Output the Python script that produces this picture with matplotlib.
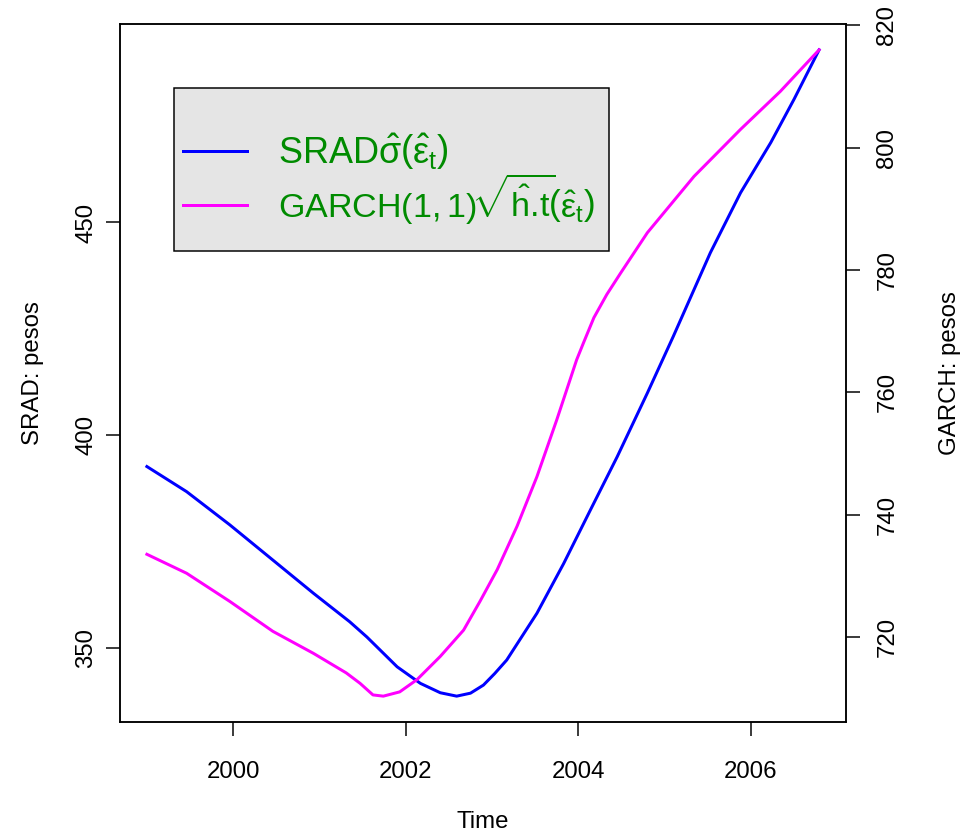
import matplotlib
matplotlib.use("Agg")
import matplotlib.pyplot as plt
from matplotlib.lines import Line2D
from matplotlib.patches import Rectangle

# values
srad_time = [1999.00, 1999.46, 1999.96, 2000.46, 2000.93, 2001.35, 2001.55, 2001.90,
             2002.17, 2002.40, 2002.59, 2002.75, 2002.90, 2003.03, 2003.17, 2003.52,
             2003.83, 2004.14, 2004.45, 2004.80, 2005.10, 2005.53, 2005.88, 2006.23,
             2006.50, 2006.79]
srad_pesos = [392.6, 386.7, 378.9, 370.6, 362.8, 356.1, 352.5, 345.5,
              341.6, 339.4, 338.6, 339.3, 341.2, 343.9, 347.1, 358.1,
              369.8, 382.4, 394.9, 409.9, 423.2, 442.9, 457.0, 468.8,
              479.0, 490.6]

garch_time = [1999.00, 1999.46, 1999.96, 2000.46, 2000.93, 2001.31, 2001.47, 2001.62,
              2001.74, 2001.93, 2002.13, 2002.40, 2002.67, 2002.86, 2003.06, 2003.29,
              2003.52, 2003.75, 2003.98, 2004.06, 2004.18, 2004.33, 2004.49, 2004.80,
              2005.34, 2005.88, 2006.34, 2006.79]
garch_pesos = [733.5, 730.4, 725.8, 720.9, 717.3, 714.1, 712.4, 710.5,
               710.3, 711.0, 713.0, 716.8, 721.1, 725.8, 731.0, 738.1,
               746.2, 755.5, 765.3, 768.1, 772.2, 776.0, 779.5, 786.1,
               795.3, 803.0, 809.2, 816.0]

x_ticks = [2000, 2002, 2004, 2006]
srad_ticks = [350, 400, 450]
garch_ticks = [720, 740, 760, 780, 800, 820]

legend_labels = [
    r"SRAD$\hat{\sigma}\left(\hat{\varepsilon}_t\right)$",
    r"$\mathrm{GARCH}(1,1)\!\sqrt{\hat{h}\text{.t}}\!\left(\hat{\varepsilon}_t\right)$",
]

plt.rcParams["font.family"] = ["Liberation Sans", "DejaVu Sans"]
plt.rcParams["mathtext.fontset"] = "custom"
plt.rcParams["mathtext.rm"] = "Liberation Sans"
plt.rcParams["mathtext.it"] = "Liberation Sans"
plt.rcParams["mathtext.bf"] = "Liberation Sans:bold"

W, H = 973, 837
fig = plt.figure(figsize=(W / 144, H / 144), dpi=144)
left, right, top, bottom = 120, 846, 24, 722
ax = fig.add_axes([left / W, 1 - bottom / H, (right - left) / W, (bottom - top) / H])
ax2 = ax.twinx()

ax.plot(srad_time, srad_pesos, color="#0000FF", lw=1.5)
ax2.plot(garch_time, garch_pesos, color="#FF00FF", lw=1.5)

for a in (ax, ax2):
    a.margins(x=0.04, y=0.04)
    for s in a.spines.values():
        s.set_linewidth(0.75)
    a.tick_params(length=7.2, width=0.75, labelsize=12)

ax.set_xticks(x_ticks)
ax.set_yticks(srad_ticks)
ax2.set_yticks(garch_ticks)
ax.tick_params(axis="x", pad=12.5)
ax.tick_params(axis="y", pad=4)
ax2.tick_params(axis="y", pad=8)
for lab in ax.get_yticklabels() + ax2.get_yticklabels():
    lab.set_rotation(90)
    lab.set_va("center")

fig.text(33 / W, 1 - 373 / H, "SRAD: pesos", rotation=90, ha="center", va="center", fontsize=12)
fig.text(950 / W, 1 - 373 / H, "GARCH: pesos", rotation=90, ha="center", va="center", fontsize=12)
fig.text(483 / W, 1 - 822 / H, "Time", ha="center", va="center", fontsize=12)

# legend: grey box from the reference, entries placed inside it
pw, ph = right - left, bottom - top
box = Rectangle(((174 - left) / pw, (bottom - 251) / ph), (609 - 174) / pw, (251 - 88) / ph,
                transform=ax2.transAxes, facecolor="#E5E5E5", edgecolor="black",
                lw=0.75, zorder=4)
ax2.add_patch(box)
handles = [Line2D([], [], color="#0000FF", lw=1.5), Line2D([], [], color="#FF00FF", lw=1.5)]
leg = ax2.legend(handles, legend_labels, loc="center left",
                 bbox_to_anchor=((183 - left) / pw, (bottom - 179) / ph),
                 fontsize=18, labelcolor="#008B00", frameon=False,
                 borderpad=0, borderaxespad=0, handlelength=1.78, handletextpad=0.86,
                 labelspacing=0.0)
leg.get_texts()[1].set_fontsize(17)
leg.set_zorder(5)

fig.savefig("out.png", dpi=144)
